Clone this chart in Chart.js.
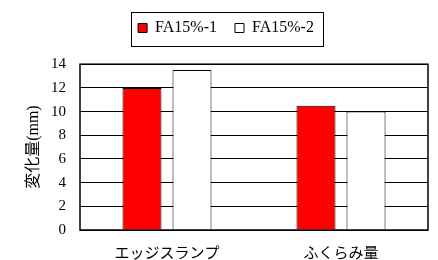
<!DOCTYPE html>
<html>
<head>
<meta charset="utf-8">
<script src="https://cdn.jsdelivr.net/npm/chart.js@4/dist/chart.umd.min.js"></script>
<style>
  html, body { margin: 0; padding: 0; background: #fff; }
  #wrap { width: 438px; height: 260px; }
</style>
</head>
<body>
<div id="wrap"><canvas id="chart"></canvas></div>
<script>
const categories = ['エッジスランプ', 'ふくらみ量'];
const fa15_1 = [12, 10.5];
const fa15_2 = [13.5, 10];
const seriesNames = ['FA15%-1', 'FA15%-2'];

const FONT = '"Liberation Serif", "Times New Roman", "Noto Sans CJK JP", serif';

// frame round the plot area and the legend
const frames = {
    id: 'frames',
    afterDraw(chart) {
        const c = chart.ctx;
        const a = chart.chartArea;
        c.save();
        c.strokeStyle = '#000';
        c.lineWidth = 1.5;
        c.strokeRect(a.left, a.top, a.right - a.left, a.bottom - a.top);
        const boxes = chart.legend.legendHitBoxes;
        if (boxes && boxes.length) {
            const first = boxes[0], last = boxes[boxes.length - 1];
            const l = first.left - 7, r = last.left + last.width + 9;
            const t = first.top - 8, b = first.top + first.height + 10;
            c.lineWidth = 1;
            c.strokeRect(Math.round(l) + 0.5, Math.round(t) + 0.5, Math.round(r - l), Math.round(b - t));
        }
        c.restore();
    }
};

const ctx = document.getElementById('chart').getContext('2d');
const myChart = new Chart(ctx, {
    type: 'bar',
    data: {
        labels: categories,
        datasets: [{
            label: seriesNames[0],
            data: fa15_1,
            backgroundColor: 'rgb(255, 0, 0)',
            borderColor: '#000',
            borderWidth: 1,
            categoryPercentage: 0.575,
            barPercentage: 0.78
        },
        {
            label: seriesNames[1],
            data: fa15_2,
            backgroundColor: '#fff',
            borderColor: '#000',
            borderWidth: 1,
            categoryPercentage: 0.575,
            barPercentage: 0.78
        }]
    },
    options: {
        responsive: true,
        maintainAspectRatio: false,
        animation: false,
        layout: { padding: { left: 24, right: 10, top: 2, bottom: -18 } },
        plugins: {
            tooltip: { enabled: false },
            legend: {
                position: 'top',
                labels: {
                    color: '#000',
                    font: { family: FONT, size: 16 },
                    boxWidth: 9,
                    boxHeight: 9,
                    padding: 18
                }
            },
            // empty title used as a spacer between legend and plot
            title: {
                display: true,
                text: '',
                weight: 500,
                font: { size: 1 },
                padding: { top: 0, bottom: 17 }
            }
        },
        scales: {
            x: {
                grid: { display: false, drawTicks: false },
                border: { display: false },
                ticks: { color: '#000', font: { family: FONT, size: 15 }, padding: 15 }
            },
            y: {
                min: 0,
                max: 14,
                afterFit(axis) { axis.width = 56; },
                grid: { color: '#000', lineWidth: 1, drawTicks: false },
                border: { display: false },
                ticks: { stepSize: 2, autoSkip: false, color: '#000', font: { family: FONT, size: 15 }, padding: 14 },
                title: {
                    display: true,
                    text: '変化量(mm)',
                    color: '#000',
                    font: { family: FONT, size: 16 },
                    padding: 0
                }
            }
        }
    },
    plugins: [frames]
});
</script>
</body>
</html>
